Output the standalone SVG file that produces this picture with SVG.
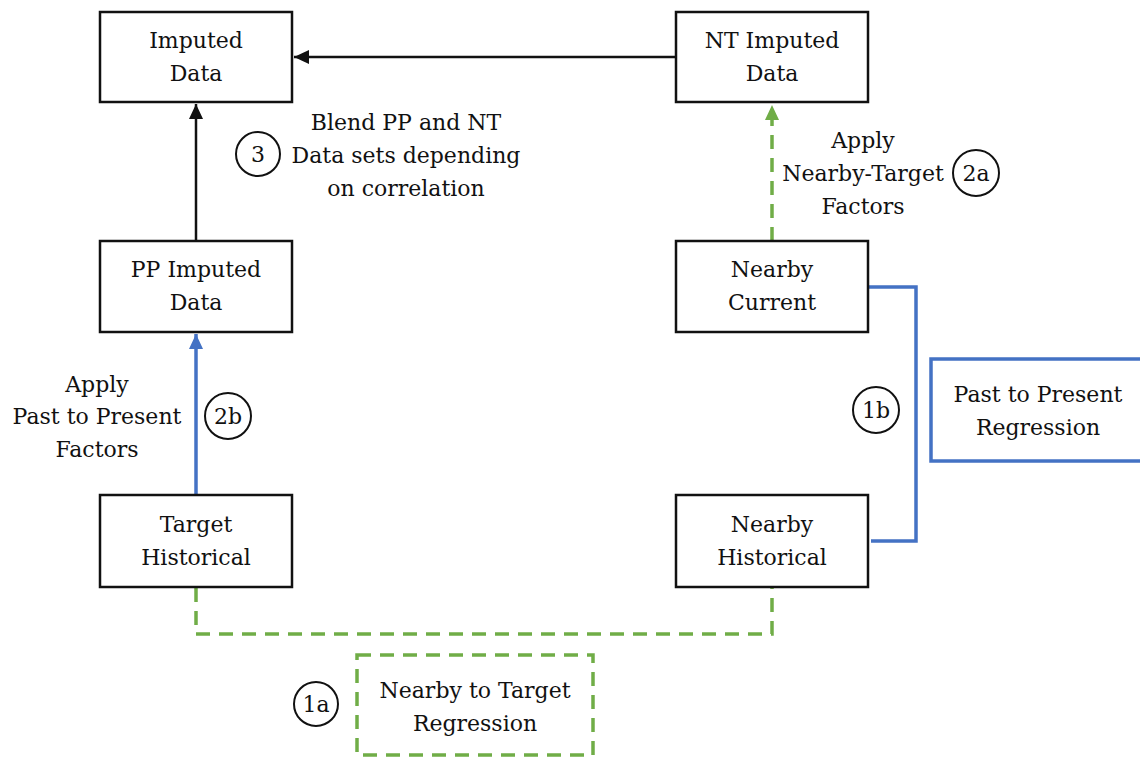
<svg xmlns="http://www.w3.org/2000/svg" width="1140" height="760" viewBox="0 0 1140 760">
<defs>
<style>
.box{fill:#fff;stroke:#111;stroke-width:2.5}
.t{font-family:"DejaVu Serif","Liberation Serif",serif;font-size:22px;fill:#111;text-anchor:middle}
.num{fill:#fff;stroke:#111;stroke-width:2}
.blk{fill:none;stroke:#111;stroke-width:2.5}
.blu{fill:none;stroke:#4472C4;stroke-width:3.5}
.grn{fill:none;stroke:#70AD47;stroke-width:3.5;stroke-dasharray:14 9}
</style>
<marker id="ak" markerUnits="userSpaceOnUse" markerWidth="16" markerHeight="16" refX="15" refY="7" orient="auto"><path d="M0,0 L15,7 L0,14 z" fill="#111"/></marker>
<marker id="ab" markerUnits="userSpaceOnUse" markerWidth="16" markerHeight="16" refX="15" refY="7" orient="auto"><path d="M0,0 L15,7 L0,14 z" fill="#4472C4"/></marker>
<marker id="ag" markerUnits="userSpaceOnUse" markerWidth="16" markerHeight="16" refX="15" refY="7" orient="auto"><path d="M0,0 L15,7 L0,14 z" fill="#70AD47"/></marker>
</defs>
<rect width="1140" height="760" fill="#fff"/>

<g id="connectors">
<line class="blk" x1="676" y1="57" x2="294" y2="57" marker-end="url(#ak)"/>
<line class="blk" x1="196" y1="241" x2="196" y2="104" marker-end="url(#ak)"/>
<line class="blu" x1="196" y1="495" x2="196" y2="334" marker-end="url(#ab)"/>
<line class="grn" x1="772" y1="241" x2="772" y2="105" stroke-dasharray="16 12" marker-end="url(#ag)"/>
<polyline class="blu" points="869,287 916,287 916,541 871,541"/>
<polyline class="grn" points="196,588 196,634 772,634 772,588"/>
</g>

<g id="imputed-data">
<rect class="box" x="100" y="12" width="192" height="90"/>
<text class="t" x="196" y="48">Imputed</text>
<text class="t" x="196" y="81">Data</text>
</g>

<g id="nt-imputed-data">
<rect class="box" x="676" y="12" width="192" height="90"/>
<text class="t" x="772" y="48">NT Imputed</text>
<text class="t" x="772" y="81">Data</text>
</g>

<g id="pp-imputed-data">
<rect class="box" x="100" y="241" width="192" height="91"/>
<text class="t" x="196" y="277">PP Imputed</text>
<text class="t" x="196" y="310">Data</text>
</g>

<g id="nearby-current">
<rect class="box" x="676" y="241" width="192" height="91"/>
<text class="t" x="772" y="277">Nearby</text>
<text class="t" x="772" y="310">Current</text>
</g>

<g id="target-historical">
<rect class="box" x="100" y="495" width="192" height="92"/>
<text class="t" x="196" y="532">Target</text>
<text class="t" x="196" y="565">Historical</text>
</g>

<g id="nearby-historical">
<rect class="box" x="676" y="495" width="192" height="92"/>
<text class="t" x="772" y="532">Nearby</text>
<text class="t" x="772" y="565">Historical</text>
</g>

<g id="past-to-present-regression">
<rect x="931" y="359" width="220" height="102" fill="#fff" stroke="#4472C4" stroke-width="3.5"/>
<text class="t" x="1038" y="402">Past to Present</text>
<text class="t" x="1038" y="435">Regression</text>
</g>

<g id="nearby-to-target-regression">
<rect class="grn" x="357" y="655" width="236" height="100" stroke-dasharray="14 9"/>
<text class="t" x="475" y="698">Nearby to Target</text>
<text class="t" x="475" y="731">Regression</text>
</g>

<g id="label-3">
<circle class="num" cx="258" cy="154" r="22"/>
<text class="t" x="258" y="162">3</text>
<text class="t" x="406" y="130">Blend PP and NT</text>
<text class="t" x="406" y="163">Data sets depending</text>
<text class="t" x="406" y="196">on correlation</text>
</g>

<g id="label-2a">
<text class="t" x="863" y="148">Apply</text>
<text class="t" x="863" y="181">Nearby-Target</text>
<text class="t" x="863" y="214">Factors</text>
<circle class="num" cx="976" cy="173" r="23"/>
<text class="t" x="976" y="181">2a</text>
</g>

<g id="label-2b">
<text class="t" x="97" y="392">Apply</text>
<text class="t" x="97" y="424">Past to Present</text>
<text class="t" x="97" y="457">Factors</text>
<circle class="num" cx="228" cy="416" r="23"/>
<text class="t" x="228" y="424">2b</text>
</g>

<g id="label-1b">
<circle class="num" cx="876" cy="410" r="23"/>
<text class="t" x="876" y="418">1b</text>
</g>

<g id="label-1a">
<circle class="num" cx="316" cy="704" r="22"/>
<text class="t" x="316" y="712">1a</text>
</g>
</svg>
